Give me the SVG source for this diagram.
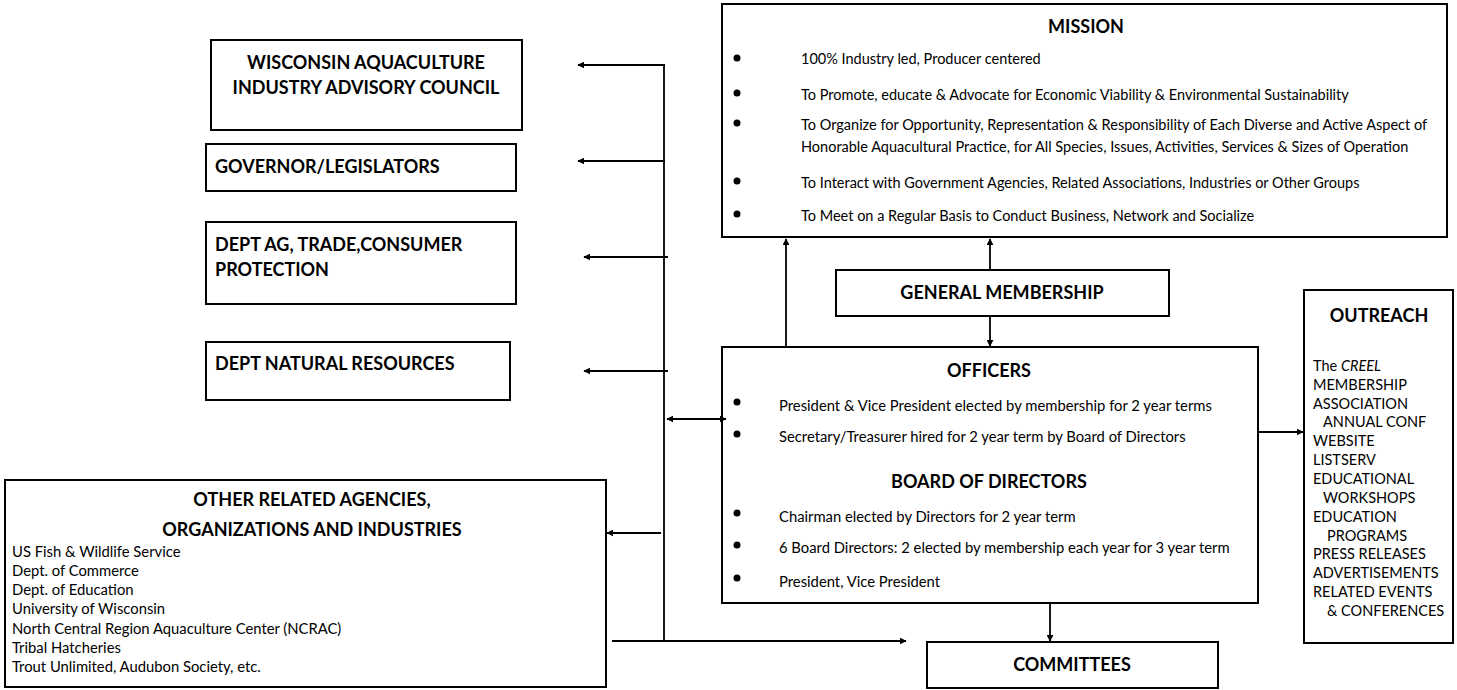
<svg xmlns="http://www.w3.org/2000/svg" width="1457" height="690" viewBox="0 0 1457 690">
<style>
.box{fill:#fff;stroke:#000;stroke-width:2}
.h{font-family:Lato,"Open Sans","Liberation Sans",sans-serif;font-weight:bold;font-size:18px;fill:#000}
.hc{text-anchor:middle}
.t{font-family:Lato,"Open Sans","Liberation Sans",sans-serif;font-size:14.5px;fill:#000}
.o{font-family:Lato,"Open Sans","Liberation Sans",sans-serif;font-size:14.8px;fill:#000}
.ln{stroke:#000;stroke-width:1.8;fill:none}
</style>
<defs>
<marker id="ah" viewBox="0 0 10 10" refX="9" refY="5" markerWidth="7" markerHeight="7" markerUnits="userSpaceOnUse" orient="auto-start-reverse">
<path d="M0,0 L10,5 L0,10 z" fill="#000"/>
</marker>
</defs>
<rect width="1457" height="690" fill="#fff"/>

<g id="wisconsin">
<rect class="box" x="211" y="40" width="311" height="90"/>
<text class="h hc" x="366" y="69">WISCONSIN AQUACULTURE</text>
<text class="h hc" x="366" y="94">INDUSTRY ADVISORY COUNCIL</text>
</g>
<g id="governor">
<rect class="box" x="206" y="144" width="310" height="47"/>
<text class="h" x="215" y="173">GOVERNOR/LEGISLATORS</text>
</g>
<g id="deptag">
<rect class="box" x="206" y="222" width="310" height="82"/>
<text class="h" x="215" y="251">DEPT AG, TRADE,CONSUMER</text>
<text class="h" x="215" y="276">PROTECTION</text>
</g>
<g id="dnr">
<rect class="box" x="206" y="342" width="304" height="58"/>
<text class="h" x="215" y="370">DEPT NATURAL RESOURCES</text>
</g>
<g id="other">
<rect class="box" x="5" y="480" width="601" height="207"/>
<text class="h hc" x="312" y="506">OTHER RELATED AGENCIES,</text>
<text class="h hc" x="312" y="536">ORGANIZATIONS AND INDUSTRIES</text>
<text class="o" x="12" y="557">US Fish &amp; Wildlife Service</text>
<text class="o" x="12" y="576">Dept. of Commerce</text>
<text class="o" x="12" y="595">Dept. of Education</text>
<text class="o" x="12" y="614">University of Wisconsin</text>
<text class="o" x="12" y="634">North Central Region Aquaculture Center (NCRAC)</text>
<text class="o" x="12" y="653">Tribal Hatcheries</text>
<text class="o" x="12" y="672">Trout Unlimited, Audubon Society, etc.</text>
</g>
<g id="mission">
<rect class="box" x="722" y="4" width="725" height="233"/>
<text class="h hc" x="1086" y="33">MISSION</text>
<circle cx="737" cy="58" r="3.5"/>
<text class="t" x="801" y="64">100% Industry led, Producer centered</text>
<circle cx="737" cy="93" r="3.5"/>
<text class="t" x="801" y="100">To Promote, educate &amp; Advocate for Economic Viability &amp; Environmental Sustainability</text>
<circle cx="737" cy="123" r="3.5"/>
<text class="t" x="801" y="130">To Organize for Opportunity, Representation &amp; Responsibility of Each Diverse and Active Aspect of</text>
<text class="t" x="801" y="152">Honorable Aquacultural Practice, for All Species, Issues, Activities, Services &amp; Sizes of Operation</text>
<circle cx="737" cy="181" r="3.5"/>
<text class="t" x="801" y="188">To Interact with Government Agencies, Related Associations, Industries or Other Groups</text>
<circle cx="737" cy="214" r="3.5"/>
<text class="t" x="801" y="221">To Meet on a Regular Basis to Conduct Business, Network and Socialize</text>
</g>
<g id="membership">
<rect class="box" x="836" y="270" width="333" height="46"/>
<text class="h hc" x="1002" y="299">GENERAL MEMBERSHIP</text>
</g>
<g id="officers">
<rect class="box" x="722" y="347" width="536" height="256"/>
<text class="h hc" x="989" y="377">OFFICERS</text>
<circle cx="737" cy="402" r="3.5"/>
<text class="o" x="779" y="411">President &amp; Vice President elected by membership for 2 year terms</text>
<circle cx="737" cy="434" r="3.5"/>
<text class="o" x="779" y="442">Secretary/Treasurer hired for 2 year term by Board of Directors</text>
<text class="h hc" x="989" y="488">BOARD OF DIRECTORS</text>
<circle cx="737" cy="513" r="3.5"/>
<text class="o" x="779" y="522">Chairman elected by Directors for 2 year term</text>
<circle cx="737" cy="545" r="3.5"/>
<text class="o" x="779" y="553">6 Board Directors: 2 elected by membership each year for 3 year term</text>
<circle cx="737" cy="578" r="3.5"/>
<text class="o" x="779" y="587">President, Vice President</text>
</g>
<g id="outreach">
<rect class="box" x="1304" y="290" width="149" height="353"/>
<text class="h hc" x="1379" y="322">OUTREACH</text>
<text class="t" x="1313" y="371">The <tspan font-style="italic">CREEL</tspan></text>
<text class="t" x="1313" y="390">MEMBERSHIP</text>
<text class="t" x="1313" y="409">ASSOCIATION</text>
<text class="t" x="1323" y="427">ANNUAL CONF</text>
<text class="t" x="1313" y="446">WEBSITE</text>
<text class="t" x="1313" y="465">LISTSERV</text>
<text class="t" x="1313" y="484">EDUCATIONAL</text>
<text class="t" x="1323" y="503">WORKSHOPS</text>
<text class="t" x="1313" y="522">EDUCATION</text>
<text class="t" x="1327" y="541">PROGRAMS</text>
<text class="t" x="1313" y="559">PRESS RELEASES</text>
<text class="t" x="1313" y="578">ADVERTISEMENTS</text>
<text class="t" x="1313" y="597">RELATED EVENTS</text>
<text class="t" x="1327" y="616">&amp; CONFERENCES</text>
</g>
<g id="committees">
<rect class="box" x="927" y="642" width="291" height="46"/>
<text class="h hc" x="1072" y="671">COMMITTEES</text>
</g>

<g id="connectors">
<path class="ln" d="M664,65 L664,641"/>
<path class="ln" d="M665,65 L578,65" marker-end="url(#ah)"/>
<path class="ln" d="M665,161 L578,161" marker-end="url(#ah)"/>
<path class="ln" d="M668,257 L584,257" marker-end="url(#ah)"/>
<path class="ln" d="M668,371 L584,371" marker-end="url(#ah)"/>
<path class="ln" d="M661,533 L607,533" marker-end="url(#ah)"/>
<path class="ln" d="M667,419 L726,419" marker-start="url(#ah)" marker-end="url(#ah)"/>
<path class="ln" d="M612,641 L906,641" marker-end="url(#ah)"/>
<path class="ln" d="M786,347 L786,239" marker-end="url(#ah)"/>
<path class="ln" d="M990,270 L990,239" marker-end="url(#ah)"/>
<path class="ln" d="M990,316 L990,346" marker-end="url(#ah)"/>
<path class="ln" d="M1050,604 L1050,641" marker-end="url(#ah)"/>
<path class="ln" d="M1258,432 L1303,432" marker-end="url(#ah)"/>
</g>
</svg>
